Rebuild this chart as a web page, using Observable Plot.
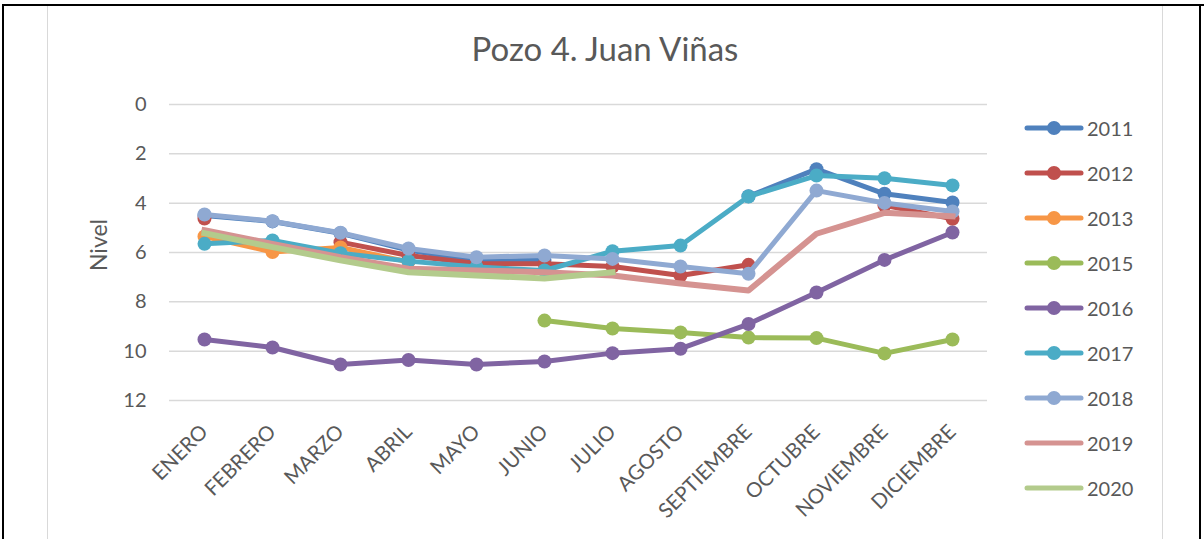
<!DOCTYPE html>
<html>
<head>
<meta charset="utf-8">
<script src="https://cdn.jsdelivr.net/npm/d3@7"></script>
<script src="https://cdn.jsdelivr.net/npm/@observablehq/plot@0.6"></script>
<style>
  html, body { margin: 0; padding: 0; background: #fff; }
  #wrap { position: relative; width: 1204px; height: 539px; overflow: hidden; font-family: Lato, "Open Sans", sans-serif; color: #595959; }
  #wrap svg.plot { position: absolute; left: 0; top: 0; }
  #title { position: absolute; left: 0; width: 1210px; top: 28px; text-align: center; font-size: 33px; line-height: 40px; color: #595959; }
  #ylabel { position: absolute; left: 98px; top: 245px; transform: translate(-50%, -50%) rotate(-90deg); font-size: 23px; white-space: nowrap; color: #595959; }
  #legend { position: absolute; left: 1024px; top: 105px; }
  .lg { display: flex; align-items: center; height: 45px; font-size: 20px; color: #595959; }
  .lg svg { margin-right: 3px; }
  .b { position: absolute; }
</style>
</head>
<body>
<div id="wrap">
  <div class="b" style="left:2px;top:4px;width:2px;height:540px;background:#000"></div>
  <div class="b" style="left:2px;top:4px;width:1202px;height:2px;background:#000"></div>
  <div class="b" style="left:1199px;top:4px;width:2px;height:540px;background:#000"></div>
  <div class="b" style="left:47px;top:6px;width:1px;height:540px;background:#d9d9d9"></div>
  <div class="b" style="left:1162px;top:6px;width:1px;height:540px;background:#d9d9d9"></div>
  <div id="title">Pozo 4. Juan Viñas</div>
  <div id="ylabel">Nivel</div>
  <div id="legend"></div>
</div>
<script>
const months = ["ENERO","FEBRERO","MARZO","ABRIL","MAYO","JUNIO","JULIO","AGOSTO","SEPTIEMBRE","OCTUBRE","NOVIEMBRE","DICIEMBRE"];
const years = ["2011","2012","2013","2015","2016","2017","2018","2019","2020"];
const colors = ["#4F81BD","#C0504D","#F79646","#9BBB59","#8064A2","#4BACC6","#8FA9D2","#D59391","#B3CB8C"];
const withMarkers = [true,true,true,true,true,true,true,false,false];
const yTicks = [0,2,4,6,8,10,12];

const v2011 = [4.5,4.74,5.22,5.9,6.36,6.3,null,null,3.72,2.62,3.62,3.97];
const v2012 = [4.62,null,5.58,6.12,6.45,6.46,6.57,6.93,6.5,null,4.09,4.63];
const v2013 = [5.35,5.98,5.8,6.38,null,null,null,null,null,null,null,null];
const v2015 = [null,null,null,null,null,8.76,9.08,9.24,9.45,9.47,10.09,9.53];
const v2016 = [9.53,9.85,10.54,10.36,10.54,10.42,10.08,9.9,8.9,7.62,6.3,5.19];
const v2017 = [5.65,5.51,6.03,6.35,6.59,6.73,5.95,5.72,3.73,2.88,2.99,3.28];
const v2018 = [4.46,4.73,5.2,5.84,6.19,6.12,6.26,6.57,6.86,3.49,3.99,4.34];
const v2019 = [5.1,5.65,6.19,6.66,6.73,6.8,6.93,7.26,7.54,5.24,4.39,4.53];
const v2020 = [5.22,5.78,6.32,6.8,6.93,7.05,6.8,null,null,null,null,null];
const seriesValues = [v2011,v2012,v2013,v2015,v2016,v2017,v2018,v2019,v2020];

const marks = [
  Plot.gridY(yTicks, {stroke: "#d9d9d9", strokeOpacity: 1, strokeWidth: 1.5}),
  Plot.axisY({ticks: yTicks, tickSize: 0, tickPadding: 23, fontSize: 20, label: null}),
  Plot.axisX({tickSize: 0, tickRotate: -45, tickPadding: 28, fontSize: 20.5, label: null})
];

years.forEach((yr, i) => {
  const data = months.map((m, j) => ({month: m, value: seriesValues[i][j]}));
  const sw = withMarkers[i] ? 5 : 6;
  marks.push(Plot.line(data, {x: "month", y: "value", stroke: colors[i], strokeWidth: sw, strokeLinejoin: "round", strokeLinecap: withMarkers[i] ? "round" : "square"}));
  if (withMarkers[i]) {
    marks.push(Plot.dot(data.filter(d => d.value != null), {x: "month", y: "value", r: 7, fill: colors[i], stroke: "none"}));
  }
});

const chart = Plot.plot({
  width: 1204,
  height: 539,
  marginLeft: 169,
  marginRight: 217,
  marginTop: 104,
  marginBottom: 139,
  style: {fontFamily: "Lato, 'Open Sans', sans-serif", color: "#595959", background: "transparent", overflow: "visible"},
  x: {type: "point", domain: months, padding: 0.5},
  y: {domain: [0, 12], reverse: true},
  marks
});
chart.classList.add("plot");
document.getElementById("wrap").insertBefore(chart, document.getElementById("title"));

const legend = document.getElementById("legend");
years.forEach((yr, i) => {
  const row = document.createElement("div");
  row.className = "lg";
  const marker = withMarkers[i] ? `<circle cx="30" cy="9" r="7" fill="${colors[i]}"/>` : "";
  row.innerHTML = `<svg width="60" height="18"><line x1="3" y1="9" x2="57" y2="9" stroke="${colors[i]}" stroke-width="5" stroke-linecap="round"/>${marker}</svg><span>${yr}</span>`;
  legend.appendChild(row);
});
</script>
</body>
</html>
